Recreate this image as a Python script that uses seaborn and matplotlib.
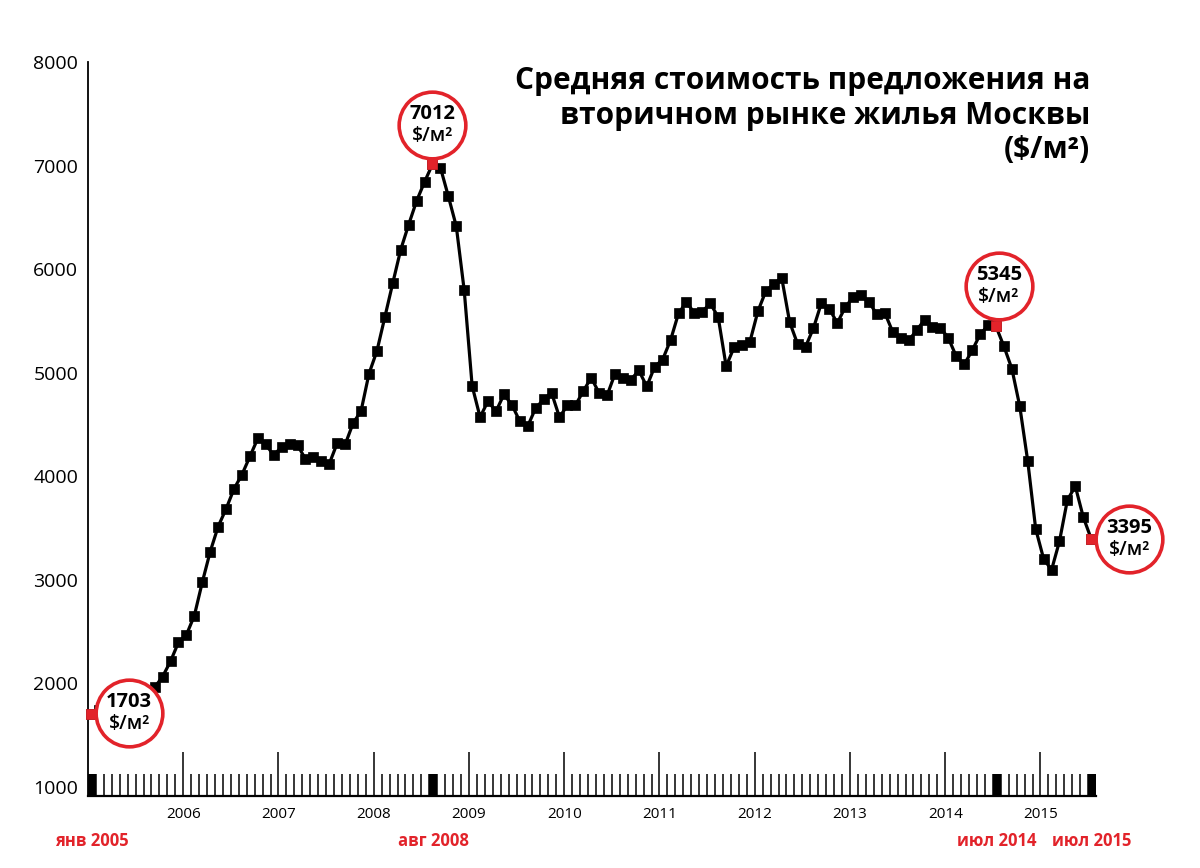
import numpy as np
import pandas as pd
import matplotlib
matplotlib.use("Agg")
import matplotlib.pyplot as plt
import matplotlib.transforms as mtransforms
import seaborn as sns

# ---------------- data ----------------
start_year = 2005
prices = [1703, 1740, 1770, 1800, 1830, 1860, 1900, 1930,
          1962, 2066, 2214, 2397, 2469, 2655, 2977, 3273, 3515, 3686, 3879, 4017, 4191, 4367, 4307, 4203,
          4285, 4315, 4302, 4165, 4184, 4146, 4121, 4320, 4307, 4513, 4629, 4990,
          5209, 5537, 5866, 6188, 6430, 6658, 6842, 7012, 6981, 6704, 6414, 5795,
          4872, 4571, 4726, 4626, 4790, 4691, 4532, 4484, 4658, 4742, 4807, 4571,
          4684, 4684, 4822, 4952, 4803, 4781, 4990, 4952, 4932, 5022, 4868, 5058,
          5127, 5315, 5573, 5682, 5576, 5590, 5670, 5537, 5062, 5245, 5264, 5300,
          5593, 5788, 5856, 5918, 5489, 5278, 5250, 5430, 5672, 5618, 5479, 5631,
          5731, 5747, 5682, 5563, 5576, 5392, 5338, 5312, 5409, 5512, 5441, 5435,
          5334, 5157, 5080, 5215, 5370, 5457, 5447, 5254, 5039, 4674, 4146, 3492,
          3203, 3096, 3373, 3773, 3902, 3605, 3395]
months = list(range(len(prices)))
year_labels = [str(y) for y in range(2006, 2016)]
y_ticks = [1000, 2000, 3000, 4000, 5000, 6000, 7000, 8000]

highlight_months = [0, 43, 114, 126]
highlight_labels = ["янв 2005", "авг 2008", "июл 2014", "июл 2015"]
callout_values = ["1703", "7012", "5345", "3395"]
callout_unit = "$/м²"
title = "Средняя стоимость предложения на\nвторичном рынке жилья Москвы\n($/м²)"

# ---------------- style ----------------
RED = "#e2232a"
sns.set_style("white")
plt.rcParams["font.family"] = ["Open Sans", "DejaVu Sans"]

fig = plt.figure(figsize=(12, 8.68), dpi=100)
ax = fig.add_axes([88 / 1200, 72 / 868, 1008 / 1200, 734 / 868])

df = pd.DataFrame({"month": np.array(months) + 0.4, "price": prices})
sns.lineplot(data=df, x="month", y="price", ax=ax, color="black", linewidth=2.3,
             marker="s", markersize=7, markeredgecolor="black", markeredgewidth=0.5,
             zorder=3, clip_on=False)

hl = df.iloc[highlight_months]
sns.scatterplot(data=hl, x="month", y="price", ax=ax, marker="s", s=55, color=RED,
                edgecolor=RED, linewidth=0.5, zorder=7, clip_on=False)

ax.set_xlim(0, len(prices))
ax.set_ylim(913, 8000)
ax.set_xlabel("")
ax.set_ylabel("")

# spines
for s in ["top", "right"]:
    ax.spines[s].set_visible(False)
ax.spines["left"].set_linewidth(1.3)
ax.spines["bottom"].set_linewidth(1.6)
ax.spines["left"].set_color("black")
ax.spines["bottom"].set_color("black")

# y ticks
ax.set_yticks(y_ticks)
ax.set_yticklabels([str(v) for v in y_ticks])
ax.tick_params(axis="y", direction="in", length=18, width=1.2, pad=7, labelsize=14,
               colors="black")
ax.yaxis.get_major_ticks()[0].tick1line.set_visible(False)

# x ticks
major = [12 * (i + 1) for i in range(len(year_labels))]
ax.set_xticks(major)
ax.set_xticklabels(year_labels)
ax.set_xticks([m for m in range(1, len(prices))], minor=True)
ax.tick_params(axis="x", which="major", direction="in", length=32, width=1.1, pad=8,
               labelsize=11, colors="black", bottom=True)
ax.tick_params(axis="x", which="minor", direction="in", length=16, width=1.1,
               colors="black", bottom=True)

# highlight month blocks on the axis
for m, lab in zip(highlight_months, highlight_labels):
    ax.axvspan(m, m + 1, ymin=0, ymax=22 / 734, color="black", lw=0, zorder=4)
    ax.annotate(lab, xy=(m + 0.5, 0),
                xycoords=("data", "axes fraction"), xytext=(0, -45),
                textcoords="offset pixels", ha="center", va="center",
                fontsize=12, fontweight="bold", color=RED, annotation_clip=False)

# callout circles
offsets = [(38, 1), (0, 39), (3, 40), (38, 0)]
for m, txt, (dx, dy) in zip(highlight_months, callout_values, offsets):
    x = m + 0.4
    y = prices[m]
    tr = mtransforms.offset_copy(ax.transData, fig=fig, x=dx, y=dy, units="dots")
    ax.plot([x], [y], marker="o", markersize=48, mfc="white", mec=RED, mew=2.6,
            transform=tr, zorder=6, clip_on=False, linestyle="none")
    tr1 = mtransforms.offset_copy(ax.transData, fig=fig, x=dx, y=dy + 11, units="dots")
    tr2 = mtransforms.offset_copy(ax.transData, fig=fig, x=dx, y=dy - 11, units="dots")
    ax.text(x, y, txt, transform=tr1, ha="center", va="center", fontsize=14.5,
            fontweight="bold", color="black", zorder=8)
    ax.text(x, y, callout_unit, transform=tr2, ha="center", va="center", fontsize=14,
            fontweight="semibold", color="black", zorder=8)

fig.text(1090 / 1200, 1 - 66 / 868, title, ha="right", va="top", fontsize=21.5,
         fontweight="bold", color="black", linespacing=1.2)

fig.savefig("out.png", dpi=100, facecolor="white")
